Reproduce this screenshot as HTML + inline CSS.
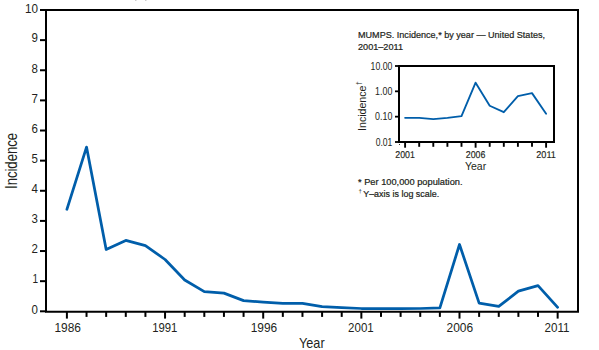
<!DOCTYPE html><html><head><meta charset="utf-8"><style>html,body{margin:0;padding:0;background:#fff;}svg{display:block;}text{font-family:"Liberation Sans", sans-serif;fill:#231f20;} .sm{stroke:#231f20;stroke-width:0.22px;} .sm2{stroke:#231f20;stroke-width:0.15px;}</style></head><body>
<svg width="599" height="350" viewBox="0 0 599 350">
<path d="M46,10 H578 V311.8 H46 Z" fill="none" stroke="#000" stroke-width="2"/>
<line x1="40" y1="311.30" x2="46" y2="311.30" stroke="#000" stroke-width="2"/>
<text x="38.0" y="313.60" font-size="12.6" text-anchor="end" textLength="6.4" lengthAdjust="spacingAndGlyphs">0</text>
<line x1="40" y1="281.17" x2="46" y2="281.17" stroke="#000" stroke-width="2"/>
<text x="38.0" y="283.47" font-size="12.6" text-anchor="end" textLength="5.6" lengthAdjust="spacingAndGlyphs">1</text>
<line x1="40" y1="251.04" x2="46" y2="251.04" stroke="#000" stroke-width="2"/>
<text x="38.0" y="253.34" font-size="12.6" text-anchor="end" textLength="6.4" lengthAdjust="spacingAndGlyphs">2</text>
<line x1="40" y1="220.91" x2="46" y2="220.91" stroke="#000" stroke-width="2"/>
<text x="38.0" y="223.21" font-size="12.6" text-anchor="end" textLength="6.4" lengthAdjust="spacingAndGlyphs">3</text>
<line x1="40" y1="190.78" x2="46" y2="190.78" stroke="#000" stroke-width="2"/>
<text x="38.0" y="193.08" font-size="12.6" text-anchor="end" textLength="6.4" lengthAdjust="spacingAndGlyphs">4</text>
<line x1="40" y1="160.65" x2="46" y2="160.65" stroke="#000" stroke-width="2"/>
<text x="38.0" y="162.95" font-size="12.6" text-anchor="end" textLength="6.4" lengthAdjust="spacingAndGlyphs">5</text>
<line x1="40" y1="130.52" x2="46" y2="130.52" stroke="#000" stroke-width="2"/>
<text x="38.0" y="132.82" font-size="12.6" text-anchor="end" textLength="6.4" lengthAdjust="spacingAndGlyphs">6</text>
<line x1="40" y1="100.39" x2="46" y2="100.39" stroke="#000" stroke-width="2"/>
<text x="38.0" y="102.69" font-size="12.6" text-anchor="end" textLength="6.4" lengthAdjust="spacingAndGlyphs">7</text>
<line x1="40" y1="70.26" x2="46" y2="70.26" stroke="#000" stroke-width="2"/>
<text x="38.0" y="72.56" font-size="12.6" text-anchor="end" textLength="6.4" lengthAdjust="spacingAndGlyphs">8</text>
<line x1="40" y1="40.13" x2="46" y2="40.13" stroke="#000" stroke-width="2"/>
<text x="38.0" y="42.43" font-size="12.6" text-anchor="end" textLength="6.4" lengthAdjust="spacingAndGlyphs">9</text>
<line x1="40" y1="10.00" x2="46" y2="10.00" stroke="#000" stroke-width="2"/>
<text x="38.0" y="13.10" font-size="12.6" text-anchor="end" textLength="13.0" lengthAdjust="spacingAndGlyphs">10</text>
<line x1="66.90" y1="311.8" x2="66.90" y2="318.6" stroke="#000" stroke-width="2"/>
<line x1="86.53" y1="311.8" x2="86.53" y2="316.9" stroke="#000" stroke-width="2"/>
<line x1="106.16" y1="311.8" x2="106.16" y2="316.9" stroke="#000" stroke-width="2"/>
<line x1="125.79" y1="311.8" x2="125.79" y2="316.9" stroke="#000" stroke-width="2"/>
<line x1="145.42" y1="311.8" x2="145.42" y2="316.9" stroke="#000" stroke-width="2"/>
<line x1="165.05" y1="311.8" x2="165.05" y2="318.6" stroke="#000" stroke-width="2"/>
<line x1="184.68" y1="311.8" x2="184.68" y2="316.9" stroke="#000" stroke-width="2"/>
<line x1="204.31" y1="311.8" x2="204.31" y2="316.9" stroke="#000" stroke-width="2"/>
<line x1="223.94" y1="311.8" x2="223.94" y2="316.9" stroke="#000" stroke-width="2"/>
<line x1="243.57" y1="311.8" x2="243.57" y2="316.9" stroke="#000" stroke-width="2"/>
<line x1="263.20" y1="311.8" x2="263.20" y2="318.6" stroke="#000" stroke-width="2"/>
<line x1="282.83" y1="311.8" x2="282.83" y2="316.9" stroke="#000" stroke-width="2"/>
<line x1="302.46" y1="311.8" x2="302.46" y2="316.9" stroke="#000" stroke-width="2"/>
<line x1="322.09" y1="311.8" x2="322.09" y2="316.9" stroke="#000" stroke-width="2"/>
<line x1="341.72" y1="311.8" x2="341.72" y2="316.9" stroke="#000" stroke-width="2"/>
<line x1="361.35" y1="311.8" x2="361.35" y2="318.6" stroke="#000" stroke-width="2"/>
<line x1="380.98" y1="311.8" x2="380.98" y2="316.9" stroke="#000" stroke-width="2"/>
<line x1="400.61" y1="311.8" x2="400.61" y2="316.9" stroke="#000" stroke-width="2"/>
<line x1="420.24" y1="311.8" x2="420.24" y2="316.9" stroke="#000" stroke-width="2"/>
<line x1="439.87" y1="311.8" x2="439.87" y2="316.9" stroke="#000" stroke-width="2"/>
<line x1="459.50" y1="311.8" x2="459.50" y2="318.6" stroke="#000" stroke-width="2"/>
<line x1="479.13" y1="311.8" x2="479.13" y2="316.9" stroke="#000" stroke-width="2"/>
<line x1="498.76" y1="311.8" x2="498.76" y2="316.9" stroke="#000" stroke-width="2"/>
<line x1="518.39" y1="311.8" x2="518.39" y2="316.9" stroke="#000" stroke-width="2"/>
<line x1="538.02" y1="311.8" x2="538.02" y2="316.9" stroke="#000" stroke-width="2"/>
<line x1="557.65" y1="311.8" x2="557.65" y2="318.6" stroke="#000" stroke-width="2"/>
<text x="67.65" y="332" font-size="12.6" text-anchor="middle" textLength="26.5" lengthAdjust="spacingAndGlyphs">1986</text>
<text x="164.75" y="332" font-size="12.6" text-anchor="middle" textLength="25.2" lengthAdjust="spacingAndGlyphs">1991</text>
<text x="264.00" y="332" font-size="12.6" text-anchor="middle" textLength="26.5" lengthAdjust="spacingAndGlyphs">1996</text>
<text x="360.90" y="332" font-size="12.6" text-anchor="middle" textLength="25.6" lengthAdjust="spacingAndGlyphs">2001</text>
<text x="459.85" y="332" font-size="12.6" text-anchor="middle" textLength="26.6" lengthAdjust="spacingAndGlyphs">2006</text>
<text x="557.00" y="332" font-size="12.6" text-anchor="middle" textLength="25" lengthAdjust="spacingAndGlyphs">2011</text>
<text x="311.8" y="347.6" font-size="15" text-anchor="middle" textLength="25.6" lengthAdjust="spacingAndGlyphs">Year</text>
<text transform="translate(17.2,161) rotate(-90)" x="0" y="0" font-size="15.8" text-anchor="middle" textLength="56" lengthAdjust="spacingAndGlyphs">Incidence</text>
<polyline points="66.90,209.30 86.53,147.10 106.16,249.50 125.79,240.40 145.42,245.60 165.05,259.50 184.68,280.00 204.31,291.60 223.94,293.10 243.57,300.60 263.20,302.10 282.83,303.40 302.46,303.40 322.09,306.70 341.72,307.70 361.35,308.50 380.98,308.50 400.61,308.60 420.24,308.50 439.87,307.80 459.50,244.50 479.13,303.10 498.76,306.40 518.39,291.10 538.02,285.60 557.65,307.30" fill="none" stroke="#005eaa" stroke-width="2.75" stroke-linejoin="round" stroke-linecap="round"/>
<path d="M399,66 H554 V142 H399 Z" fill="none" stroke="#000" stroke-width="2"/>
<line x1="395" y1="66.00" x2="399" y2="66.00" stroke="#000" stroke-width="1.8"/>
<text x="392.4" y="69.70" font-size="10.2" text-anchor="end" textLength="21.8" lengthAdjust="spacingAndGlyphs">10.00</text>
<line x1="395" y1="91.33" x2="399" y2="91.33" stroke="#000" stroke-width="1.8"/>
<text x="392.4" y="95.03" font-size="10.2" text-anchor="end" textLength="17.3" lengthAdjust="spacingAndGlyphs">1.00</text>
<line x1="395" y1="116.67" x2="399" y2="116.67" stroke="#000" stroke-width="1.8"/>
<text x="392.4" y="120.37" font-size="10.2" text-anchor="end" textLength="17.3" lengthAdjust="spacingAndGlyphs">0.10</text>
<line x1="395" y1="142.00" x2="399" y2="142.00" stroke="#000" stroke-width="1.8"/>
<text x="392.4" y="145.70" font-size="10.2" text-anchor="end" textLength="16.7" lengthAdjust="spacingAndGlyphs">0.01</text>
<line x1="405.10" y1="142" x2="405.10" y2="147.7" stroke="#000" stroke-width="1.9"/>
<line x1="419.20" y1="142" x2="419.20" y2="146.8" stroke="#000" stroke-width="1.9"/>
<line x1="433.30" y1="142" x2="433.30" y2="146.8" stroke="#000" stroke-width="1.9"/>
<line x1="447.40" y1="142" x2="447.40" y2="146.8" stroke="#000" stroke-width="1.9"/>
<line x1="461.50" y1="142" x2="461.50" y2="146.8" stroke="#000" stroke-width="1.9"/>
<line x1="475.60" y1="142" x2="475.60" y2="147.7" stroke="#000" stroke-width="1.9"/>
<line x1="489.70" y1="142" x2="489.70" y2="146.8" stroke="#000" stroke-width="1.9"/>
<line x1="503.80" y1="142" x2="503.80" y2="146.8" stroke="#000" stroke-width="1.9"/>
<line x1="517.90" y1="142" x2="517.90" y2="146.8" stroke="#000" stroke-width="1.9"/>
<line x1="532.00" y1="142" x2="532.00" y2="146.8" stroke="#000" stroke-width="1.9"/>
<line x1="546.10" y1="142" x2="546.10" y2="147.7" stroke="#000" stroke-width="1.9"/>
<text x="405.10" y="158" font-size="9.9" text-anchor="middle" textLength="19.6" class="sm2" text-rendering="geometricPrecision" lengthAdjust="spacingAndGlyphs">2001</text>
<text x="475.60" y="158" font-size="9.9" text-anchor="middle" textLength="19.6" class="sm2" text-rendering="geometricPrecision" lengthAdjust="spacingAndGlyphs">2006</text>
<text x="546.10" y="158" font-size="9.9" text-anchor="middle" textLength="19.6" class="sm2" text-rendering="geometricPrecision" lengthAdjust="spacingAndGlyphs">2011</text>
<text x="475.60" y="170" font-size="10.5" text-anchor="middle">Year</text>
<g transform="translate(366,130.9) rotate(-90)"><text x="0" y="0" font-size="10.5" textLength="45.3" lengthAdjust="spacingAndGlyphs">Incidence</text><text x="45.9" y="-4.7" font-size="6.5">†</text></g>
<polyline points="405.10,117.83 419.20,117.83 433.30,119.12 447.40,117.83 461.50,116.13 475.60,82.66 489.70,105.74 503.80,112.21 517.90,96.07 532.00,93.12 546.10,113.78" fill="none" stroke="#005eaa" stroke-width="1.85" stroke-linejoin="round" stroke-linecap="round"/>
<text class="sm" x="358" y="37.8" font-size="9.3" textLength="187" lengthAdjust="spacingAndGlyphs">MUMPS. Incidence,* by year — United States,</text>
<text class="sm" x="358" y="49.8" font-size="9.3" textLength="45" lengthAdjust="spacingAndGlyphs">2001–2011</text>
<text class="sm" x="358" y="184.8" font-size="8.9" textLength="104.5" lengthAdjust="spacingAndGlyphs">* Per 100,000 population.</text>
<text x="358.4" y="193.2" font-size="6">†</text><text class="sm" x="363.2" y="196.7" font-size="8.9" textLength="76" lengthAdjust="spacingAndGlyphs">Y–axis is log scale.</text>
<rect x="399" y="144" width="1" height="1" fill="#333"/>
<rect x="135" y="0" width="1.5" height="1" fill="#ccc"/><rect x="145" y="0" width="1.5" height="1" fill="#ccc"/>
</svg></body></html>
